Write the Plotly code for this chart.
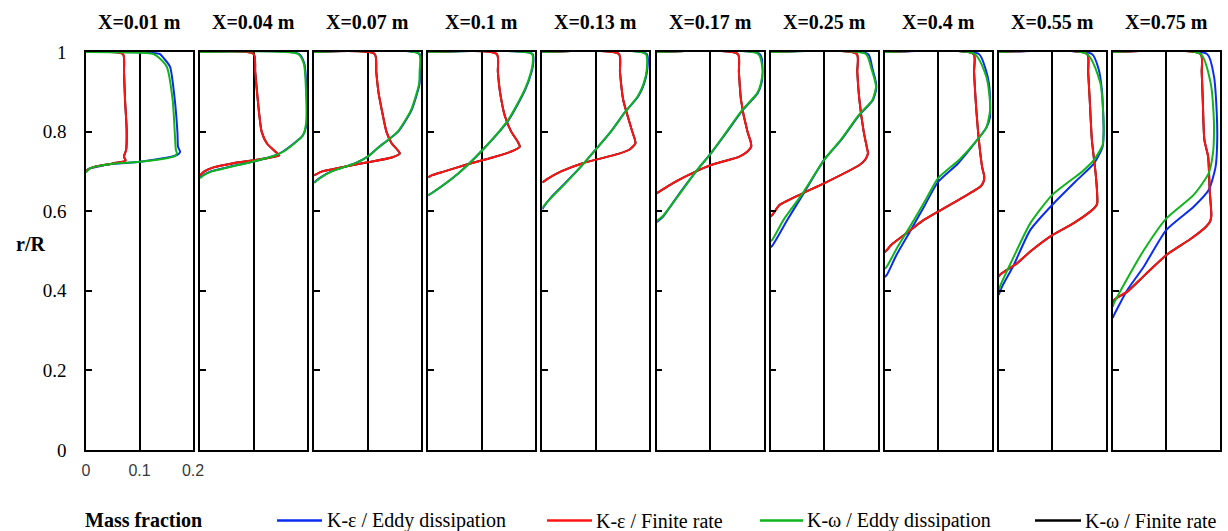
import plotly.graph_objects as go

W, H = 1228, 531

stations = ["X=0.01 m", "X=0.04 m", "X=0.07 m", "X=0.1 m", "X=0.13 m",
            "X=0.17 m", "X=0.25 m", "X=0.4 m", "X=0.55 m", "X=0.75 m"]

x_ticks = [0, 0.1, 0.2]
x_tick_text = ["0", "0.1", "0.2"]
y_ticks = [0, 0.2, 0.4, 0.6, 0.8, 1.0]
y_tick_text = ["0", "0.2", "0.4", "0.6", "0.8", "1"]

series_names = ["K-ε / Eddy dissipation", "K-ε / Finite rate",
                "K-ω / Eddy dissipation", "K-ω / Finite rate"]

# profiles: list of (r/R, mass fraction) pairs per station
# (below the first point the mass fraction is 0, i.e. on the left frame)
ke_eddy = [
    [(0.699, 0), (0.704, 0.003), (0.708, 0.008), (0.719, 0.051), (0.724, 0.101), (0.741, 0.170),
     (0.749, 0.176), (0.762, 0.172), (0.796, 0.171), (0.879, 0.166), (0.963, 0.157), (0.985, 0.145),
     (0.995, 0.138), (1.0, 0)],
    [(0.685, 0), (0.69, 0.005), (0.70, 0.02), (0.71, 0.05), (0.725, 0.10), (0.74, 0.14), (0.75, 0.155),
     (0.77, 0.175), (0.79, 0.192), (0.82, 0.199), (0.90, 0.199), (0.97, 0.195), (0.995, 0.185), (1.0, 0)],
    [(0.672, 0), (0.677, 0.004), (0.685, 0.012), (0.70, 0.032), (0.72, 0.076), (0.737, 0.10),
     (0.76, 0.12), (0.779, 0.138), (0.80, 0.157), (0.854, 0.182), (0.92, 0.197), (0.95, 0.198),
     (0.995, 0.197), (1.0, 0)],
    [(0.64, 0), (0.645, 0.006), (0.695, 0.056), (0.752, 0.10), (0.829, 0.150), (0.905, 0.181),
     (0.95, 0.193), (0.97, 0.196), (0.995, 0.195), (1.0, 0)],
    [(0.605, 0), (0.61, 0.002), (0.636, 0.017), (0.67, 0.042), (0.712, 0.072), (0.754, 0.099),
     (0.80, 0.128), (0.85, 0.155), (0.888, 0.179), (0.92, 0.19), (0.955, 0.196), (0.995, 0.195), (1.0, 0)],
    [(0.572, 0), (0.586, 0.012), (0.645, 0.043), (0.70, 0.074), (0.746, 0.102), (0.80, 0.132),
     (0.854, 0.161), (0.896, 0.189), (0.92, 0.196), (0.955, 0.199), (0.995, 0.193), (1.0, 0)],
    [(0.51, 0), (0.513, 0.003), (0.58, 0.032), (0.641, 0.06), (0.729, 0.10), (0.779, 0.132),
     (0.842, 0.166), (0.879, 0.191), (0.913, 0.198), (0.96, 0.19), (0.995, 0.182), (1.0, 0)],
    [(0.435, 0), (0.44, 0.004), (0.49, 0.022), (0.553, 0.049), (0.61, 0.073), (0.674, 0.10),
     (0.72, 0.137), (0.779, 0.173), (0.81, 0.19), (0.837, 0.197), (0.879, 0.197), (0.92, 0.195),
     (0.955, 0.189), (0.995, 0.176), (1.0, 0)],
    [(0.39, 0), (0.397, 0.002), (0.41, 0.006), (0.465, 0.028), (0.553, 0.059), (0.616, 0.10),
     (0.678, 0.146), (0.72, 0.178), (0.762, 0.194), (0.80, 0.196), (0.85, 0.195), (0.90, 0.193),
     (0.955, 0.187), (0.995, 0.174), (1.0, 0)],
    [(0.332, 0), (0.339, 0.002), (0.402, 0.027), (0.461, 0.058), (0.553, 0.10), (0.611, 0.151),
     (0.653, 0.179), (0.712, 0.192), (0.779, 0.195), (0.85, 0.194), (0.938, 0.189), (0.995, 0.176), (1.0, 0)],
]

ke_finite = [
    [(0.70, 0), (0.704, 0.003), (0.71, 0.012), (0.72, 0.05), (0.727, 0.074), (0.737, 0.071),
     (0.754, 0.075), (0.804, 0.076), (0.879, 0.073), (0.95, 0.071), (0.995, 0.069), (1.0, 0)],
    [(0.69, 0), (0.70, 0.008), (0.71, 0.025), (0.72, 0.06), (0.73, 0.11), (0.74, 0.148),
     (0.748, 0.142), (0.77, 0.125), (0.80, 0.115), (0.85, 0.11), (0.95, 0.103), (0.995, 0.10), (1.0, 0)],
    [(0.69, 0), (0.70, 0.015), (0.71, 0.05), (0.723, 0.10), (0.735, 0.145), (0.745, 0.16),
     (0.755, 0.155), (0.77, 0.145), (0.80, 0.135), (0.85, 0.127), (0.90, 0.12), (0.95, 0.116),
     (0.995, 0.113), (1.0, 0)],
    [(0.685, 0), (0.69, 0.006), (0.70, 0.03), (0.716, 0.069), (0.735, 0.12), (0.75, 0.155),
     (0.762, 0.171), (0.775, 0.167), (0.80, 0.155), (0.84, 0.143), (0.90, 0.134), (0.95, 0.13),
     (0.995, 0.128), (1.0, 0)],
    [(0.672, 0), (0.68, 0.008), (0.70, 0.035), (0.72, 0.074), (0.744, 0.142), (0.755, 0.163),
     (0.771, 0.174), (0.80, 0.168), (0.88, 0.151), (0.95, 0.145), (0.995, 0.143), (1.0, 0)],
    [(0.645, 0), (0.65, 0.006), (0.67, 0.03), (0.70, 0.074), (0.716, 0.102), (0.737, 0.155),
     (0.75, 0.17), (0.762, 0.177), (0.775, 0.176), (0.80, 0.17), (0.879, 0.158), (0.95, 0.154),
     (0.995, 0.152), (1.0, 0)],
    [(0.587, 0), (0.59, 0.003), (0.60, 0.008), (0.616, 0.017), (0.645, 0.06), (0.67, 0.10),
     (0.716, 0.166), (0.73, 0.177), (0.745, 0.182), (0.76, 0.18), (0.80, 0.174), (0.879, 0.166),
     (0.95, 0.162), (0.995, 0.161), (1.0, 0)],
    [(0.497, 0), (0.5025, 0.004), (0.515, 0.012), (0.549, 0.045), (0.575, 0.07), (0.599, 0.10),
     (0.63, 0.14), (0.662, 0.179), (0.675, 0.185), (0.687, 0.186), (0.712, 0.182), (0.779, 0.176),
     (0.879, 0.17), (0.95, 0.167), (0.995, 0.166), (1.0, 0)],
    [(0.435, 0), (0.44, 0.002), (0.45, 0.012), (0.469, 0.034), (0.50, 0.06), (0.54, 0.10),
     (0.57, 0.14), (0.599, 0.171), (0.61, 0.18), (0.62, 0.184), (0.64, 0.184), (0.695, 0.181),
     (0.779, 0.174), (0.879, 0.17), (0.95, 0.167), (0.995, 0.165), (1.0, 0)],
    [(0.37, 0), (0.377, 0.002), (0.398, 0.027), (0.44, 0.06), (0.49, 0.10), (0.53, 0.145),
     (0.561, 0.174), (0.575, 0.182), (0.59, 0.184), (0.65, 0.181), (0.737, 0.178), (0.779, 0.171),
     (0.879, 0.168), (0.95, 0.166), (0.995, 0.164), (1.0, 0)],
]

kw_eddy = [
    [(0.697, 0), (0.702, 0.003), (0.708, 0.008), (0.719, 0.05), (0.724, 0.10), (0.738, 0.165),
     (0.745, 0.170), (0.754, 0.168), (0.796, 0.166), (0.879, 0.162), (0.963, 0.151), (0.985, 0.137),
     (0.995, 0.126), (1.0, 0)],
    [(0.683, 0), (0.69, 0.006), (0.70, 0.022), (0.71, 0.052), (0.725, 0.10), (0.74, 0.14),
     (0.75, 0.156), (0.77, 0.176), (0.79, 0.192), (0.82, 0.198), (0.90, 0.198), (0.97, 0.194),
     (0.995, 0.183), (1.0, 0)],
    [(0.671, 0), (0.676, 0.004), (0.685, 0.013), (0.70, 0.033), (0.72, 0.076), (0.737, 0.10),
     (0.76, 0.12), (0.779, 0.138), (0.80, 0.156), (0.854, 0.181), (0.92, 0.196), (0.95, 0.197),
     (0.995, 0.196), (1.0, 0)],
    [(0.64, 0), (0.645, 0.006), (0.695, 0.056), (0.752, 0.10), (0.829, 0.149), (0.905, 0.180),
     (0.95, 0.192), (0.97, 0.195), (0.995, 0.194), (1.0, 0)],
    [(0.607, 0), (0.612, 0.002), (0.636, 0.018), (0.67, 0.043), (0.712, 0.072), (0.754, 0.099),
     (0.80, 0.128), (0.85, 0.155), (0.888, 0.178), (0.92, 0.189), (0.955, 0.195), (0.995, 0.193), (1.0, 0)],
    [(0.575, 0), (0.588, 0.012), (0.645, 0.044), (0.70, 0.074), (0.746, 0.102), (0.80, 0.131),
     (0.854, 0.16), (0.896, 0.188), (0.92, 0.195), (0.955, 0.198), (0.995, 0.19), (1.0, 0)],
    [(0.525, 0), (0.528, 0.003), (0.58, 0.025), (0.641, 0.058), (0.729, 0.10), (0.779, 0.131),
     (0.842, 0.165), (0.879, 0.19), (0.913, 0.197), (0.96, 0.188), (0.995, 0.178), (1.0, 0)],
    [(0.455, 0), (0.461, 0.004), (0.51, 0.024), (0.565, 0.049), (0.625, 0.075), (0.683, 0.10),
     (0.73, 0.14), (0.779, 0.173), (0.81, 0.19), (0.854, 0.197), (0.90, 0.195), (0.938, 0.19),
     (0.995, 0.168), (1.0, 0)],
    [(0.40, 0), (0.41, 0.002), (0.423, 0.006), (0.486, 0.028), (0.57, 0.059), (0.641, 0.10),
     (0.70, 0.156), (0.729, 0.178), (0.766, 0.194), (0.80, 0.196), (0.85, 0.195), (0.921, 0.19),
     (0.995, 0.165), (1.0, 0)],
    [(0.36, 0), (0.369, 0.002), (0.431, 0.027), (0.5025, 0.058), (0.582, 0.10), (0.641, 0.151),
     (0.695, 0.179), (0.745, 0.187), (0.796, 0.189), (0.85, 0.188), (0.92, 0.183), (0.995, 0.164), (1.0, 0)],
]

# K-ω / Finite rate is hidden under the other curves in the original
kw_finite = [list(p) for p in ke_finite]

colors = ["#0a2cf0", "#ff1414", "#10b41c", "#000000"]

# ---------------- layout geometry (pixels) ----------------
panel_w = 107
panel_step = 114.1
left0 = 86
top_px, bot_px = 52, 450
y_dom = [1 - bot_px / H, 1 - top_px / H]

fig = go.Figure()

serif = "Liberation Serif, Times New Roman, serif"
TXT = 20

draw_order = [3, 0, 1, 2]
all_series = [ke_eddy, ke_finite, kw_eddy, kw_finite]

for i, title in enumerate(stations):
    n = i + 1
    xa = "x" if n == 1 else f"x{n}"
    ya = "y" if n == 1 else f"y{n}"
    for s in draw_order:
        prof = all_series[s][i]
        fig.add_trace(go.Scatter(
            x=[p[1] for p in prof], y=[p[0] for p in prof],
            mode="lines", line=dict(color=colors[s], width=2, shape="spline", smoothing=0.6),
            xaxis=xa, yaxis=ya, showlegend=False, hoverinfo="skip"))

    L = left0 + i * panel_step
    xdom = [L / W, (L + panel_w) / W]
    xkey = "xaxis" if n == 1 else f"xaxis{n}"
    ykey = "yaxis" if n == 1 else f"yaxis{n}"
    fig.layout[xkey] = dict(
        domain=xdom, range=[0, 0.2], anchor=ya, automargin=False,
        tickvals=x_ticks, ticktext=x_tick_text, ticks="",
        showticklabels=(n == 1), ticklabelstandoff=5,
        tickfont=dict(family="Liberation Sans, Arial, sans-serif", size=16, color="#3a3a3a"),
        showgrid=True, gridcolor="black", gridwidth=1.5,
        showline=True, linecolor="black", linewidth=1.6, mirror=True,
        zeroline=False, fixedrange=True)
    fig.layout[ykey] = dict(
        domain=y_dom, range=[0, 1], anchor=xa, automargin=False,
        tickvals=y_ticks, ticktext=y_tick_text,
        ticks="inside", ticklen=6, tickwidth=1.5, tickcolor="black",
        showticklabels=(n == 1), ticklabelstandoff=14,
        tickfont=dict(family=serif, size=19, color="black"),
        showgrid=False, showline=True, linecolor="black", linewidth=1.6, mirror=True,
        zeroline=False, fixedrange=True)
    fig.add_annotation(text=f"<b>{title}</b>", x=(L + panel_w / 2) / W, y=1 - 22 / H,
                       xref="paper", yref="paper", xanchor="center", yanchor="middle",
                       showarrow=False, font=dict(family=serif, size=TXT, color="black"))

# axis labels
fig.add_annotation(text="<b>r/R</b>", x=30 / W, y=1 - 244 / H, xref="paper", yref="paper",
                   xanchor="center", yanchor="middle", showarrow=False,
                   font=dict(family=serif, size=TXT, color="black"))
fig.add_annotation(text="<b>Mass fraction</b>", x=83 / W, y=1 - 520 / H, xref="paper", yref="paper",
                   xanchor="left", yanchor="middle", showarrow=False,
                   font=dict(family=serif, size=TXT, color="black"))

# manual legend
leg_line_x = [(277, 322), (547, 592), (760, 803), (1035, 1081)]
leg_text_x = [325, 594, 805, 1083]
leg_y = 1 - 520.5 / H
for k in range(4):
    x0, x1 = leg_line_x[k]
    fig.add_shape(type="line", xref="paper", yref="paper", x0=x0 / W, x1=x1 / W, y0=leg_y, y1=leg_y,
                  line=dict(color=colors[k], width=2.5))
    fig.add_annotation(text=series_names[k], x=leg_text_x[k] / W, y=leg_y, xref="paper", yref="paper",
                       xanchor="left", yanchor="middle", showarrow=False,
                       font=dict(family=serif, size=TXT, color="black"))

fig.update_layout(width=W, height=H, margin=dict(l=0, r=0, t=0, b=0, pad=0, autoexpand=False),
                  paper_bgcolor="white", plot_bgcolor="white", showlegend=False)

fig.write_html("out.html", config={"displayModeBar": False})
